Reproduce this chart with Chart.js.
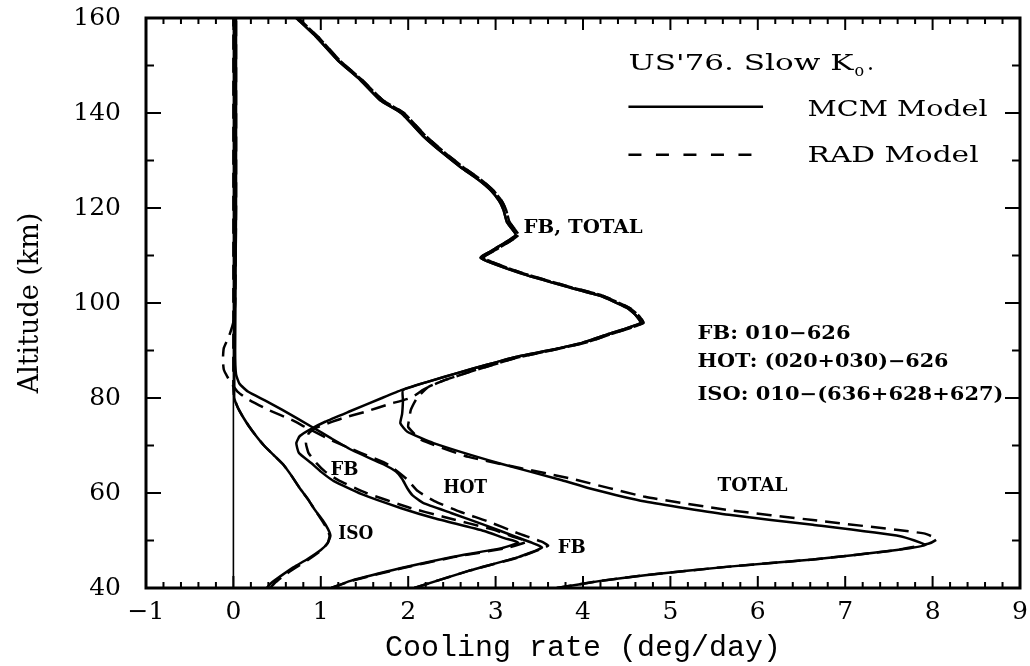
<!DOCTYPE html>
<html>
<head>
<meta charset="utf-8">
<script src="https://cdn.jsdelivr.net/npm/chart.js@4.4.1/dist/chart.umd.min.js"></script>
<style>
  html, body { margin: 0; padding: 0; background: #fff; }
</style>
</head>
<body>
<canvas id="chart" width="1030" height="666"></canvas>
<script>
// ---- data (altitude in km, cooling rate in deg/day) ----
const xTicks = [-1, 0, 1, 2, 3, 4, 5, 6, 7, 8, 9];
const yTicks = [40, 60, 80, 100, 120, 140, 160];

const zeroAlt = [40, 160];
const zeroVal = [0, 0];

// ISO: 010-(636+628+627)
const isoAlt = [40, 41, 42.5, 44.4, 46, 48, 49.5, 51, 52.5, 54.3, 56.5, 58.5, 61, 63.5, 66, 68, 70, 72, 74, 76, 78, 80, 82, 100, 130, 160];
const isoMcm = [0.38, 0.43, 0.54, 0.69, 0.84, 1.0, 1.08, 1.11, 1.08, 1.02, 0.93, 0.86, 0.76, 0.67, 0.57, 0.46, 0.35, 0.26, 0.18, 0.11, 0.05, 0.01, 0.01, 0.01, 0.01, 0.02];
const isoRad = [0.42, 0.47, 0.57, 0.72, 0.86, 1.01, 1.08, 1.1, 1.07, 1.01, 0.93, 0.86, 0.76, 0.67, 0.57, 0.46, 0.35, 0.26, 0.18, 0.11, 0.05, 0.01, 0, 0, 0, 0];

// HOT: (020+030)-626
const hotAlt = [40, 43.6, 46.5, 48.5, 49.5, 51, 53.3, 55.8, 57.9, 59.5, 61, 63, 64.5, 66, 69, 71.5, 74, 77.5, 79.5, 81.3, 83, 85, 90, 120, 160];
const hotMcm = [2.07, 2.69, 3.26, 3.53, 3.42, 3.2, 2.87, 2.49, 2.17, 2.05, 1.99, 1.93, 1.86, 1.72, 1.36, 1.12, 0.89, 0.56, 0.36, 0.17, 0.07, 0.03, 0.02, 0.03, 0.03];
const hotRadAlt = [40, 43.6, 46.5, 48.9, 49.8, 51.5, 54.1, 56, 58.3, 60.4, 63, 66, 68.5, 71.3, 73.9, 75.3, 77.5, 79.7, 81.3, 83, 84.5, 86, 88, 90.5, 93, 96, 100, 120, 160];
const hotRad = [2.07, 2.69, 3.27, 3.6, 3.52, 3.26, 2.9, 2.6, 2.3, 2.11, 1.98, 1.77, 1.45, 1.1, 0.82, 0.68, 0.4, 0.17, 0.05, -0.02, -0.07, -0.11, -0.12, -0.11, -0.05, 0, 0.02, 0.03, 0.03];

// FB: 010-626 (below 82 km)
const fbAlt = [40, 41.5, 44.2, 46.5, 48.4, 49.6, 50.5, 52, 54.7, 56.8, 59.8, 62.5, 64.5, 66.3, 68.4, 70.5, 72, 73.5, 75, 77.1, 80, 81.7];
const fbMcm = [1.12, 1.34, 1.92, 2.49, 3.07, 3.26, 3.1, 2.87, 2.3, 1.92, 1.46, 1.15, 1.0, 0.89, 0.75, 0.72, 0.76, 0.89, 1.05, 1.32, 1.7, 1.93];
const fbRadAlt = [40, 41.5, 44.2, 46.5, 48.4, 49.8, 50.8, 52.3, 55, 57, 60, 62.7, 64.5, 66.3, 68.4, 70.5, 72.5, 73.7, 75.7, 77.1, 78.7, 80.1, 81.7];
const fbRad = [1.12, 1.35, 1.94, 2.52, 3.12, 3.36, 3.2, 2.97, 2.4, 2.0, 1.52, 1.2, 1.05, 0.95, 0.86, 0.83, 0.86, 0.94, 1.24, 1.51, 1.78, 2.04, 2.17];

// TOTAL (below 82 km)
const totAlt = [40, 41.5, 42.7, 44.5, 46, 48, 49.05, 50.9, 53.3, 55.4, 58.2, 61, 62.7, 66.2, 70.5, 72.9, 74.7, 76.6, 79.5, 81.7];
const totMcm = [3.7, 4.2, 4.71, 5.67, 6.63, 7.59, 7.92, 7.63, 6.63, 5.67, 4.71, 4.07, 3.76, 3.05, 2.29, 1.99, 1.91, 1.93, 1.94, 1.94];
const totRadAlt = [40, 41.5, 42.7, 44.5, 46, 48, 49.3, 50.3, 51.5, 54.3, 56.4, 59.2, 63, 67.6, 71.2, 73.9, 75.4, 77.5, 80, 82.3];
const totRad = [3.7, 4.2, 4.71, 5.67, 6.63, 7.59, 7.95, 8.05, 7.9, 6.63, 5.67, 4.71, 3.87, 2.69, 2.15, 2.0, 2.01, 2.03, 2.1, 2.23];

// FB and TOTAL coincide above 82 km
const upAlt = [83.5, 85.3, 87, 88.6, 90, 91.6, 93.4, 95.8, 97.5, 99, 101.5, 103.4, 106.3, 109.5, 111.5, 114.3, 117, 119.6, 121.5, 123.8, 126, 128.6, 131.5, 135, 140, 142.7, 147, 151, 156, 160];
const upMcm = [2.24, 2.57, 2.9, 3.22, 3.6, 3.99, 4.28, 4.66, 4.6, 4.5, 4.2, 3.82, 3.28, 2.83, 3.0, 3.23, 3.13, 3.09, 3.04, 2.94, 2.8, 2.6, 2.4, 2.18, 1.92, 1.68, 1.45, 1.2, 0.95, 0.72];
const upRad = [2.38, 2.67, 2.97, 3.27, 3.63, 4.02, 4.31, 4.69, 4.63, 4.53, 4.23, 3.85, 3.31, 2.86, 3.03, 3.26, 3.16, 3.12, 3.07, 2.97, 2.83, 2.63, 2.43, 2.21, 1.95, 1.71, 1.47, 1.22, 0.97, 0.74];

// ---- helpers ----
function pts(alt, val) {
  return alt.map((a, i) => ({ x: val[i], y: a }));
}

const solid = { borderColor: '#000', borderWidth: 2.5, pointRadius: 0, showLine: true, fill: false, tension: 0.15 };
const dashed = Object.assign({}, solid, { borderDash: [15, 8] });

const labelFont = 'bold 18px "DejaVu Serif"';
const legendFont = '22px "DejaVu Serif"';

// text placed in data coordinates; w = width in px the text is stretched to
const notes = [
  { text: 'FB, TOTAL', x: 3.32, y: 115.8, w: 119 },
  { text: 'FB: 010\u2212626', x: 5.31, y: 93.3, w: 153 },
  { text: 'HOT: (020+030)\u2212626', x: 5.31, y: 87.6, w: 251 },
  { text: 'ISO: 010\u2212(636+628+627)', x: 5.31, y: 80.6, w: 306 },
  { text: 'TOTAL', x: 5.54, y: 61.3, w: 70 },
  { text: 'HOT', x: 2.4, y: 61, w: 44 },
  { text: 'FB', x: 1.11, y: 64.8, w: 28 },
  { text: 'ISO', x: 1.2, y: 51.2, w: 35 },
  { text: 'FB', x: 3.71, y: 48.4, w: 28 }
];

function drawText(ctx, s, px, py, font, w) {
  ctx.font = font;
  const m = ctx.measureText(s).width;
  const k = w ? w / m : 1;
  ctx.save();
  ctx.translate(px, py);
  ctx.scale(k, 1);
  ctx.fillText(s, 0, 0);
  ctx.restore();
  return m * k;
}

// frame + inward ticks (major and minor) on all four sides
const framePlugin = {
  id: 'frame',
  afterDraw(chart) {
    const { ctx, chartArea: a, scales } = chart;
    const xs = scales.x, ys = scales.y;
    ctx.save();
    ctx.strokeStyle = '#000';
    ctx.lineWidth = 2;
    ctx.beginPath();
    for (let i = 0; i <= 50; i++) {
      const px = xs.getPixelForValue(-1 + i * 0.2);
      const len = i % 5 === 0 ? 12 : 6;
      ctx.moveTo(px, a.bottom); ctx.lineTo(px, a.bottom - len);
      ctx.moveTo(px, a.top); ctx.lineTo(px, a.top + len);
    }
    for (let v = 40; v <= 160; v += 10) {
      const py = ys.getPixelForValue(v);
      const len = v % 20 === 0 ? 15 : 8;
      ctx.moveTo(a.left, py); ctx.lineTo(a.left + len, py);
      ctx.moveTo(a.right, py); ctx.lineTo(a.right - len, py);
    }
    ctx.stroke();
    ctx.lineWidth = 3;
    ctx.strokeRect(a.left, a.top, a.right - a.left, a.bottom - a.top);
    ctx.restore();
  }
};

// legend box and curve labels
const notesPlugin = {
  id: 'notes',
  afterDraw(chart) {
    const { ctx, scales } = chart;
    const X = v => scales.x.getPixelForValue(v);
    const Y = v => scales.y.getPixelForValue(v);
    ctx.save();
    ctx.fillStyle = '#000';
    ctx.textAlign = 'left';

    // legend title with subscript
    ctx.textBaseline = 'alphabetic';
    const x0 = X(4.52), yb = Y(149.1);
    const w1 = drawText(ctx, "US'76. Slow K", x0, yb, legendFont, 225);
    const w2 = drawText(ctx, 'o', x0 + w1 + 1, yb + 6, '16px "DejaVu Serif"');
    drawText(ctx, '.', x0 + w1 + w2 + 4, yb, legendFont);

    // legend lines
    ctx.strokeStyle = '#000';
    ctx.lineWidth = 2.5;
    ctx.beginPath();
    ctx.moveTo(X(4.52), Y(141.3)); ctx.lineTo(X(6.06), Y(141.3));
    ctx.stroke();
    ctx.setLineDash([13, 14.5]);
    ctx.beginPath();
    ctx.moveTo(X(4.52), Y(131.2)); ctx.lineTo(X(5.93), Y(131.2));
    ctx.stroke();
    ctx.setLineDash([]);

    ctx.textBaseline = 'middle';
    drawText(ctx, 'MCM Model', X(6.57), Y(140.6), legendFont, 180);
    drawText(ctx, 'RAD Model', X(6.57), Y(130.8), legendFont, 171);

    notes.forEach(n => drawText(ctx, n.text, X(n.x), Y(n.y), labelFont, n.w));
    ctx.restore();
  }
};

Chart.defaults.color = '#000';

const chart = new Chart(document.getElementById('chart'), {
  type: 'scatter',
  data: {
    datasets: [
      Object.assign({}, solid, { data: pts(zeroAlt, zeroVal), borderWidth: 1.6, tension: 0 }),
      Object.assign({}, solid, { data: pts(isoAlt, isoMcm) }),
      Object.assign({}, dashed, { data: pts(isoAlt, isoRad) }),
      Object.assign({}, solid, { data: pts(hotAlt, hotMcm) }),
      Object.assign({}, dashed, { data: pts(hotRadAlt, hotRad) }),
      Object.assign({}, solid, { data: pts(fbAlt.concat(upAlt), fbMcm.concat(upMcm)) }),
      Object.assign({}, dashed, { data: pts(fbRadAlt.concat(upAlt), fbRad.concat(upRad)) }),
      Object.assign({}, solid, { data: pts(totAlt.concat(upAlt), totMcm.concat(upMcm)) }),
      Object.assign({}, dashed, { data: pts(totRadAlt.concat(upAlt), totRad.concat(upRad)) })
    ]
  },
  options: {
    responsive: false,
    animation: false,
    layout: { padding: { top: 18, right: 10, left: 0, bottom: 0 } },
    plugins: { legend: { display: false }, tooltip: { enabled: false } },
    scales: {
      x: {
        type: 'linear',
        min: -1,
        max: 9,
        afterFit: s => { s.height = 78; s.paddingLeft = 0; s.paddingRight = 0; },
        afterBuildTicks: s => { s.ticks = xTicks.map(v => ({ value: v })); },
        grid: { display: false, drawTicks: false },
        border: { display: false },
        ticks: {
          padding: 9,
          font: { family: '"DejaVu Serif"', size: 25 },
          callback: v => (v < 0 ? '\u2212' + Math.abs(v) : String(v))
        },
        title: {
          display: true,
          text: 'Cooling rate (deg/day)',
          font: { family: '"Liberation Mono"', size: 30 },
          padding: { top: 0, bottom: 0 }
        }
      },
      y: {
        type: 'linear',
        min: 40,
        max: 160,
        afterFit: s => { s.width = 146; s.paddingTop = 0; s.paddingBottom = 0; },
        afterBuildTicks: s => { s.ticks = yTicks.map(v => ({ value: v })); },
        grid: { display: false, drawTicks: false },
        border: { display: false },
        ticks: {
          padding: 25,
          font: { family: '"DejaVu Serif"', size: 25 }
        },
        title: {
          display: true,
          text: 'Altitude (km)',
          font: { family: '"DejaVu Serif"', size: 27 },
          padding: { top: 15, bottom: 0 }
        }
      }
    }
  },
  plugins: [framePlugin, notesPlugin]
});
</script>
</body>
</html>
